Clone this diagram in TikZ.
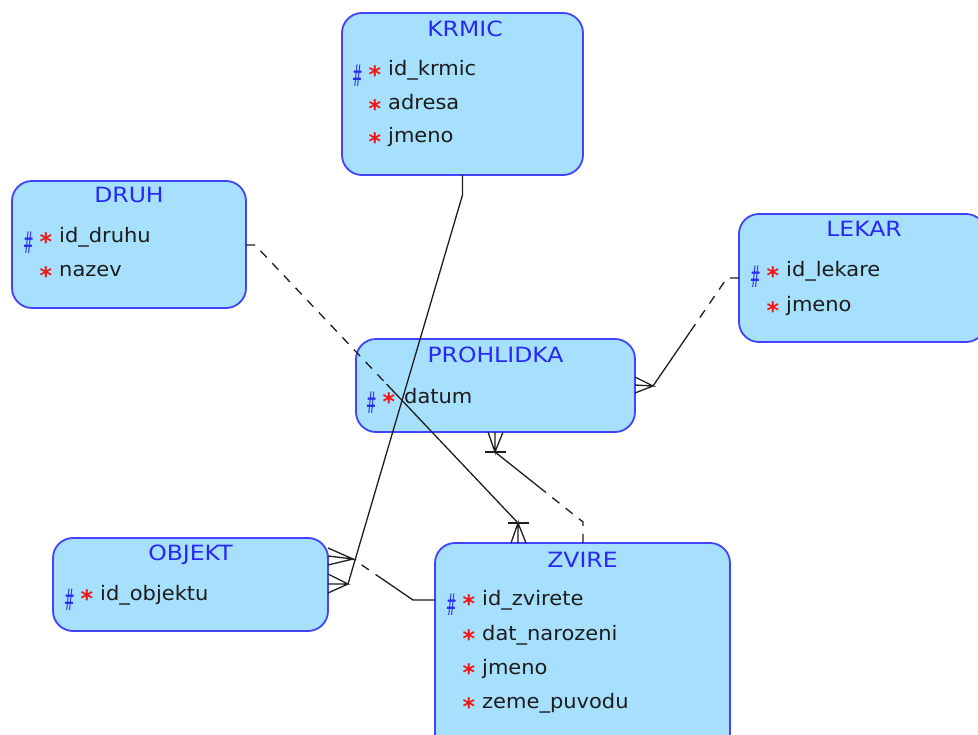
\documentclass[tikz,border=0pt]{standalone}
\usepackage{fontspec}
\setmainfont{DejaVu Sans}
\newfontfamily\titlefont[FakeStretch=1.12]{DejaVu Sans}
\newfontfamily\attrfont[FakeStretch=1.05]{DejaVu Sans}
\usetikzlibrary{calc}

\definecolor{boxfill}{RGB}{166,224,252}
\definecolor{boxline}{RGB}{66,66,255}
\definecolor{titleblue}{RGB}{40,40,245}
\definecolor{pkred}{RGB}{245,20,20}
\definecolor{linkgray}{RGB}{30,30,30}
\definecolor{attrtext}{RGB}{28,28,28}

\begin{document}
\begin{tikzpicture}[x=1pt,y=-1pt,
  entity/.style={draw=boxline, fill=boxfill, line width=1.8pt,
    rounded corners=20pt, inner sep=0pt, outer sep=0pt},
  etitle/.style={text=titleblue, font=\titlefont\fontsize{21}{24}\selectfont,
    anchor=base, inner sep=0pt},
  attr/.style={text=attrtext, font=\attrfont\fontsize{20}{24}\selectfont,
    anchor=base west, inner sep=0pt},
  % markers are placed by the top of their glyph
  pkmark/.style={text=titleblue, font=\fontsize{30}{32}\selectfont,
    anchor=north, inner sep=0pt},
  reqmark/.style={text=pkred, font=\bfseries\fontsize{24}{26}\selectfont,
    anchor=north, inner sep=0pt},
  link/.style={draw=linkgray, line width=1.3pt},
  optlink/.style={link, dash pattern=on 9pt off 8pt},
]
\useasboundingbox (0,0) rectangle (978,735);

% ---------- entity boxes ----------
\node[entity, minimum width=241pt, minimum height=162pt] (krmic)     at (462.5,94)   {};
\node[entity, minimum width=234pt, minimum height=127pt] (druh)      at (129,244.5)  {};
\node[entity, minimum width=247pt, minimum height=128pt] (lekar)     at (862.5,278)  {};
\node[entity, minimum width=279pt, minimum height=93pt]  (prohlidka) at (495.5,385.5) {};
\node[entity, minimum width=275pt, minimum height=93pt]  (objekt)    at (190.5,584.5) {};
\node[entity, minimum width=295pt, minimum height=217pt] (zvire)     at (582.5,651.5) {};

% ---------- titles ----------
\node[etitle] (krmicT)     at (465,37)   {KRMIC};
\node[etitle] (druhT)      at (129,203)  {DRUH};
\node[etitle] (lekarT)     at (864,237)  {LEKAR};
\node[etitle] (prohlidkaT) at (495.5,363) {PROHLIDKA};
\node[etitle] (objektT)    at (190.5,560) {OBJEKT};
\node[etitle] (zvireT)     at (582.5,567) {ZVIRE};

% ---------- attributes ----------
% KRMIC (left 342)
\node[pkmark]  (krmicP1) at (358,65)  {\scalebox{0.42}[1]{\#}};
\node[reqmark] (krmicR1) at (375,65)  {*};
\node[attr]    (krmicA1) at (388,76)  {id\_krmic};
\node[reqmark] (krmicR2) at (375,99)  {*};
\node[attr]    (krmicA2) at (388,110) {adresa};
\node[reqmark] (krmicR3) at (375,132) {*};
\node[attr]    (krmicA3) at (388,143) {jmeno};

% DRUH (left 12)
\node[pkmark]  (druhP1) at (29,232) {\scalebox{0.42}[1]{\#}};
\node[reqmark] (druhR1) at (46,232) {*};
\node[attr]    (druhA1) at (59,243) {id\_druhu};
\node[reqmark] (druhR2) at (46,266) {*};
\node[attr]    (druhA2) at (59,277) {nazev};

% LEKAR (left 739)
\node[pkmark]  (lekarP1) at (756,266) {\scalebox{0.42}[1]{\#}};
\node[reqmark] (lekarR1) at (773,266) {*};
\node[attr]    (lekarA1) at (786,277) {id\_lekare};
\node[reqmark] (lekarR2) at (773,301) {*};
\node[attr]    (lekarA2) at (786,312) {jmeno};

% PROHLIDKA (left 356)
\node[pkmark]  (prohlidkaP1) at (372,392) {\scalebox{0.42}[1]{\#}};
\node[reqmark] (prohlidkaR1) at (389,392) {*};
\node[attr]    (prohlidkaA1) at (404,403) {datum};

% OBJEKT (left 53)
\node[pkmark]  (objektP1) at (70,589) {\scalebox{0.42}[1]{\#}};
\node[reqmark] (objektR1) at (87,589) {*};
\node[attr]    (objektA1) at (100,600) {id\_objektu};

% ZVIRE (left 435)
\node[pkmark]  (zvireP1) at (452,594) {\scalebox{0.42}[1]{\#}};
\node[reqmark] (zvireR1) at (469,594) {*};
\node[attr]    (zvireA1) at (482,605) {id\_zvirete};
\node[reqmark] (zvireR2) at (469,629) {*};
\node[attr]    (zvireA2) at (482,640) {dat\_narozeni};
\node[reqmark] (zvireR3) at (469,663) {*};
\node[attr]    (zvireA3) at (482,674) {jmeno};
\node[reqmark] (zvireR4) at (469,697) {*};
\node[attr]    (zvireA4) at (482,708) {zeme\_puvodu};

% ---------- relationships ----------
% KRMIC -- OBJEKT (many at OBJEKT)
\coordinate (kbend) at (462.5,195);
\coordinate (kfoot) at (348,584);
\draw[link] (krmic.south) -- (kbend) -- (kfoot);
\draw[link] (objekt.east |- 0,574) -- (kfoot) -- (objekt.east |- 0,584)
            (kfoot) -- (objekt.east |- 0,593);

% ZVIRE -- OBJEKT (many at OBJEKT, optional)
\coordinate (zbend) at (413,600);
\coordinate (ofoot) at (353,559);
\coordinate (zomid) at ($(zbend)!0.5!(ofoot)$);
\draw[link] (zvire.west |- 0,600) -- (zbend) -- (zomid);
\draw[optlink] (zomid) -- (ofoot);
\draw[link] (objekt.east |- 0,548) -- (ofoot) -- (objekt.east |- 0,556)
            (ofoot) -- (objekt.east |- 0,565);

% DRUH -- ZVIRE (one or many at ZVIRE)
\coordinate (dstub) at (255,245);
\coordinate (zfoot) at (518,523);
\coordinate (dzmid) at ($(dstub)!0.5!(zfoot)$);
\draw[optlink] (druh.east |- 0,245) -- (dstub) -- (dzmid);
\draw[link] (dzmid) -- (zfoot);
\draw[link] (zvire.north -| 511,0) -- (zfoot) -- (zvire.north -| 518,0)
            (zfoot) -- (zvire.north -| 526,0);
\draw[link] ($(zfoot)+(-10.5,0)$) -- ($(zfoot)+(10.5,0)$);

% PROHLIDKA -- ZVIRE (one or many at PROHLIDKA)
\coordinate (pfoot) at (495,452);
\coordinate (zstub) at (583,522);
\coordinate (pzmid) at ($(pfoot)!0.5!(zstub)$);
\draw[link] (pfoot) -- (pzmid);
\draw[optlink] (pzmid) -- (zstub) -- (zvire.north -| 583,0);
\draw[link] (prohlidka.south -| 488,0) -- (pfoot) -- (prohlidka.south -| 495,0)
            (pfoot) -- (prohlidka.south -| 503,0);
\draw[link] ($(pfoot)+(-10.5,0)$) -- ($(pfoot)+(10.5,0)$);

% LEKAR -- PROHLIDKA (many at PROHLIDKA)
\coordinate (lstub) at (727,278);
\coordinate (pefoot) at (653,386);
\coordinate (lpmid) at ($(lstub)!0.5!(pefoot)$);
\draw[optlink] (lekar.west) -- (lstub) -- (lpmid);
\draw[link] (lpmid) -- (pefoot);
\draw[link] (prohlidka.east |- 0,377) -- (pefoot) -- (prohlidka.east |- 0,385)
            (pefoot) -- (prohlidka.east |- 0,393);

\end{tikzpicture}
\end{document}
